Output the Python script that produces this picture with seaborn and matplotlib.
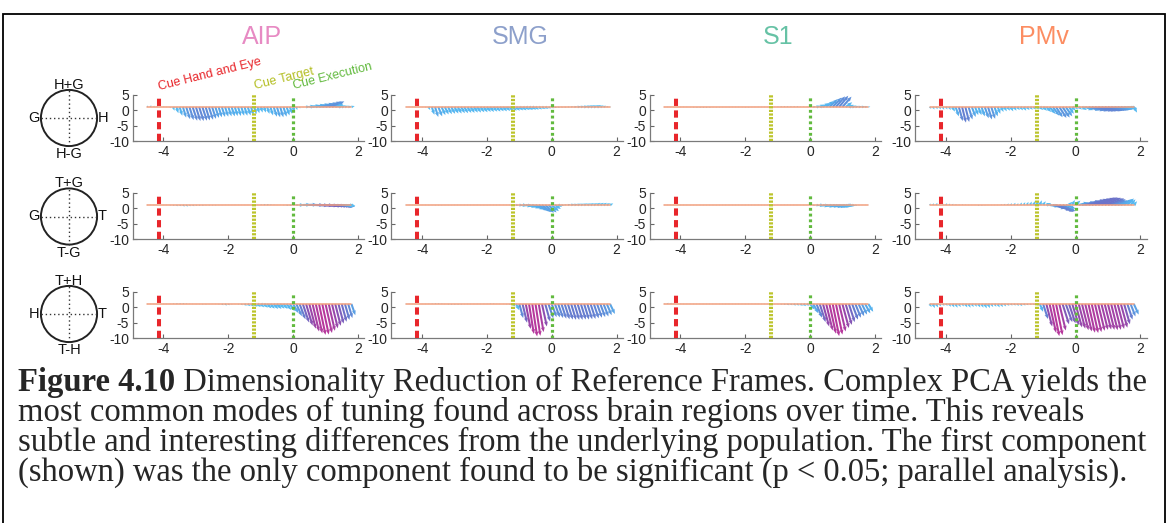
import matplotlib
matplotlib.use("Agg")
import matplotlib.pyplot as plt
from matplotlib.colors import LinearSegmentedColormap, Normalize
from matplotlib.patches import Circle, Rectangle
import numpy as np
import seaborn as sns

# ---------------------------------------------------------------- data
REGIONS = ["AIP", "SMG", "S1", "PMv"]
FRAMES = ["HG", "TG", "TH"]
# circle labels per frame row: top, bottom, left, right
FRAME_LABELS = [("H+G", "H-G", "G", "H"),
                ("T+G", "T-G", "G", "T"),
                ("T+H", "T-H", "H", "T")]

CUE_NAMES = ["Cue Hand and Eye", "Cue Target", "Cue Execution"]
CUE_TIMES = [-4.15, -1.2, 0.0]

X_TICKS = [-4, -2, 0, 2]
Y_TICKS = [5, 0, -5, -10]
BASELINE = 1.0

# sample times (s)
TIMES = [-4.5, -4.4, -4.3, -4.2, -4.1, -4.0, -3.9, -3.8, -3.7, -3.6,
         -3.5, -3.4, -3.3, -3.2, -3.1, -3.0, -2.9, -2.8, -2.7, -2.6,
         -2.5, -2.4, -2.3, -2.2, -2.1, -2.0, -1.9, -1.8, -1.7, -1.6,
         -1.5, -1.4, -1.3, -1.2, -1.1, -1.0, -0.9, -0.8, -0.7, -0.6,
         -0.5, -0.4, -0.3, -0.2, -0.1, 0.0, 0.1, 0.2, 0.3, 0.4,
         0.5, 0.6, 0.7, 0.8, 0.9, 1.0, 1.1, 1.2, 1.3, 1.4,
         1.5, 1.6, 1.7, 1.8]

# first complex component: horizontal (DX, s) and vertical (DY) parts
AIP_HG_DY = [0.5, 0.6, 0.4, 0.5, 0.3, 0.2, 0.0, -0.4, -1.2, -2.0,
             -2.8, -3.4, -3.9, -4.2, -4.4, -4.5, -4.5, -4.4, -4.3, -4.1,
             -3.8, -3.5, -3.3, -3.2, -3.1, -3.0, -3.0, -2.9, -2.9, -2.8,
             -2.8, -2.7, -2.6, -2.3, -2.0, -1.8, -1.8, -2.2, -2.7, -3.1,
             -3.3, -3.3, -3.1, -2.7, -2.2, -1.6, -1.0, -0.5, -0.2, 0.2,
             0.4, 0.6, 0.8, 1.0, 1.2, 1.4, 1.7, 1.8, 1.0, 0.6,
             0.5, 0.4, 0.3, 0.3]
AIP_HG_DX = [0.02, 0.02, 0.02, 0.02, 0.02, 0.02, 0.00, 0.02, 0.04, 0.06,
             0.08, 0.10, 0.12, 0.13, 0.14, 0.14, 0.14, 0.14, 0.13, 0.13,
             0.12, 0.11, 0.10, 0.10, 0.10, 0.10, 0.10, 0.09, 0.09, 0.09,
             0.09, 0.09, 0.08, 0.07, 0.06, 0.06, 0.06, 0.07, 0.08, 0.10,
             0.10, 0.10, 0.10, 0.09, 0.07, 0.05, 0.03, 0.02, 0.02, 0.12,
             0.18, 0.24, 0.28, 0.32, 0.35, 0.37, 0.38, 0.38, 0.25, 0.15,
             0.12, 0.10, 0.10, 0.10]

AIP_TG_DY = [0.0, 0.0, 0.0, 0.0, 0.0, 0.0, 0.0, -0.2, -0.3, -0.4,
             -0.4, -0.5, -0.5, -0.4, -0.4, -0.3, -0.3, -0.3, -0.2, -0.2,
             -0.2, -0.2, -0.1, -0.1, 0.0, 0.0, 0.0, 0.1, 0.0, 0.0,
             0.0, 0.0, 0.0, 0.0, 0.1, 0.2, 0.3, 0.3, 0.2, 0.1,
             0.0, 0.0, -0.1, -0.2, -0.2, -0.1, 0.0, 0.0, 0.1, 0.1,
             0.0, -0.1, -0.1, -0.2, -0.3, -0.3, -0.4, -0.4, -0.5, -0.5,
             -0.5, -0.4, -0.4, -0.3]
AIP_TG_DX = [0.0, 0.0, 0.0, 0.0, 0.0, 0.0, 0.0, 0.03, 0.04, 0.05,
             0.05, 0.06, 0.06, 0.05, 0.05, 0.04, 0.04, 0.04, 0.03, 0.03,
             0.03, 0.03, 0.02, 0.02, 0.02, 0.02, 0.02, 0.02, 0.02, 0.02,
             0.02, 0.02, 0.02, 0.02, 0.03, 0.04, 0.05, 0.05, 0.04, 0.03,
             0.02, 0.02, 0.03, 0.05, 0.06, 0.06, 0.08, 0.15, 0.25, 0.35,
             0.45, 0.50, 0.55, 0.60, 0.62, 0.62, 0.60, 0.58, 0.55, 0.50,
             0.40, 0.30, 0.20, 0.12]

AIP_TH_DY = [0.0, 0.0, 0.0, 0.0, 0.0, 0.0, 0.0, 0.1, 0.2, 0.3,
             0.3, 0.3, 0.2, 0.1, 0.0, -0.1, -0.1, -0.2, -0.2, -0.1,
             0.0, 0.0, -0.2, -0.4, -0.5, -0.4, -0.2, -0.1, -0.2, -0.4,
             -0.6, -0.7, -0.8, -0.9, -1.0, -1.1, -1.2, -1.4, -1.5, -1.6,
             -1.6, -1.5, -1.6, -1.9, -2.3, -2.9, -3.9, -4.9, -5.9, -6.9,
             -7.9, -8.8, -9.4, -9.9, -9.8, -9.3, -8.6, -7.8, -7.0, -6.3,
             -5.7, -5.1, -4.5, -3.6]
AIP_TH_DX = [0.0, 0.0, 0.0, 0.0, 0.0, 0.0, 0.0, 0.02, 0.03, 0.04,
             0.04, 0.04, 0.03, 0.02, 0.0, 0.02, 0.02, 0.03, 0.03, 0.02,
             0.0, 0.0, 0.03, 0.05, 0.06, 0.05, 0.03, 0.02, 0.03, 0.05,
             0.07, 0.08, 0.09, 0.10, 0.10, 0.11, 0.12, 0.13, 0.13, 0.14,
             0.14, 0.13, 0.13, 0.14, 0.15, 0.16, 0.17, 0.18, 0.19, 0.20,
             0.20, 0.20, 0.20, 0.20, 0.20, 0.20, 0.19, 0.18, 0.17, 0.16,
             0.15, 0.14, 0.13, 0.12]

SMG_HG_DY = [0.0, 0.0, 0.0, 0.0, 0.0, -0.1, -0.2, -1.0, -2.5, -3.2,
             -3.0, -2.6, -2.4, -2.3, -2.2, -2.1, -2.1, -2.0, -2.0, -1.9,
             -1.9, -1.8, -1.8, -1.7, -1.7, -1.6, -1.6, -1.5, -1.5, -1.4,
             -1.4, -1.3, -1.3, -1.2, -1.2, -1.1, -1.1, -1.0, -1.0, -0.9,
             -0.9, -0.8, -0.7, -0.6, -0.5, -0.4, -0.3, -0.2, -0.1, -0.1,
             0.0, 0.1, 0.1, 0.2, 0.3, 0.3, 0.4, 0.5, 0.5, 0.6,
             0.5, 0.4, 0.2, 0.0]
SMG_HG_DX = [0.0, 0.0, 0.0, 0.0, 0.0, 0.02, 0.03, 0.05, 0.08, 0.10,
             0.12, 0.12, 0.12, 0.12, 0.12, 0.12, 0.12, 0.12, 0.12, 0.12,
             0.12, 0.12, 0.12, 0.12, 0.12, 0.12, 0.12, 0.12, 0.12, 0.12,
             0.12, 0.12, 0.12, 0.12, 0.12, 0.12, 0.12, 0.12, 0.12, 0.12,
             0.10, 0.10, 0.10, 0.10, 0.08, 0.08, 0.06, 0.05, 0.05, 0.05,
             0.05, 0.06, 0.08, 0.10, 0.10, 0.12, 0.12, 0.12, 0.12, 0.12,
             0.10, 0.08, 0.05, 0.03]

SMG_TG_DY = [0.0, 0.0, 0.0, 0.0, 0.0, 0.0, 0.0, -0.1, -0.1, -0.2,
             -0.2, -0.2, -0.1, -0.1, -0.1, 0.0, 0.0, 0.0, 0.0, 0.0,
             0.0, 0.0, 0.0, -0.1, -0.1, -0.1, 0.0, 0.0, 0.0, 0.0,
             0.0, 0.0, 0.0, 0.0, -0.1, -0.2, -0.3, -0.5, -0.8, -1.1,
             -1.5, -1.9, -2.3, -2.5, -2.4, -2.0, -1.3, -0.6, -0.2, 0.1,
             0.2, 0.3, 0.3, 0.4, 0.4, 0.5, 0.5, 0.6, 0.6, 0.7,
             0.7, 0.7, 0.6, 0.5]
SMG_TG_DX = [0.0, 0.0, 0.0, 0.0, 0.0, 0.0, 0.0, 0.02, 0.02, 0.02,
             0.02, 0.02, 0.02, 0.02, 0.02, 0.0, 0.0, 0.0, 0.0, 0.0,
             0.0, 0.0, 0.0, 0.02, 0.02, 0.02, 0.0, 0.0, 0.0, 0.0,
             0.02, 0.02, 0.03, 0.05, 0.08, 0.12, 0.15, 0.20, 0.22, 0.25,
             0.27, 0.28, 0.28, 0.27, 0.25, 0.22, 0.18, 0.12, 0.08, 0.06,
             0.08, 0.10, 0.10, 0.10, 0.10, 0.10, 0.10, 0.10, 0.10, 0.10,
             0.10, 0.10, 0.10, 0.10]

SMG_TH_DY = [0.0, 0.0, 0.0, 0.0, 0.0, 0.0, 0.0, 0.1, 0.2, 0.3,
             0.3, 0.2, 0.0, -0.2, -0.3, -0.3, -0.3, -0.2, -0.1, 0.0,
             0.0, 0.0, 0.0, 0.0, 0.1, 0.1, 0.2, 0.2, 0.1, 0.0,
             0.0, -0.1, -0.3, -0.8, -2.0, -4.5, -6.0, -8.0, -9.6, -10.4,
             -10.2, -9.0, -7.2, -5.6, -4.6, -4.2, -4.3, -4.5, -4.7, -4.9,
             -5.0, -5.1, -5.1, -5.1, -5.0, -5.0, -4.9, -4.8, -4.6, -4.4,
             -4.2, -4.0, -3.6, -3.2]
SMG_TH_DX = [0.0, 0.0, 0.0, 0.0, 0.0, 0.0, 0.0, 0.02, 0.03, 0.03,
             0.03, 0.03, 0.0, 0.03, 0.03, 0.03, 0.03, 0.03, 0.02, 0.0,
             0.0, 0.0, 0.0, 0.0, 0.02, 0.02, 0.03, 0.03, 0.02, 0.0,
             0.02, 0.03, 0.05, 0.08, 0.10, 0.12, 0.14, 0.15, 0.15, 0.15,
             0.15, 0.15, 0.15, 0.15, 0.15, 0.15, 0.15, 0.15, 0.15, 0.15,
             0.15, 0.15, 0.15, 0.15, 0.15, 0.15, 0.15, 0.15, 0.15, 0.15,
             0.15, 0.15, 0.15, 0.15]

S1_HG_DY = [0.0, 0.0, 0.0, 0.0, 0.0, 0.0, 0.0, 0.0, -0.1, -0.2,
            -0.3, -0.3, -0.3, -0.3, -0.3, -0.2, -0.2, -0.2, -0.1, -0.1,
            -0.1, 0.0, 0.0, 0.0, -0.1, -0.2, -0.2, -0.1, 0.0, 0.0,
            0.0, 0.0, 0.0, 0.0, 0.1, 0.2, 0.3, 0.3, 0.3, 0.3,
            0.3, 0.3, 0.2, 0.2, 0.1, 0.1, 0.2, 0.4, 0.8, 1.3,
            1.9, 2.5, 3.0, 3.4, 3.6, 3.3, 1.5, 0.7, 0.4, 0.3,
            0.2, 0.2, 0.1, 0.1]
S1_HG_DX = [0.0, 0.0, 0.0, 0.0, 0.0, 0.0, 0.0, 0.0, 0.02, 0.03,
            0.03, 0.03, 0.03, 0.03, 0.03, 0.02, 0.02, 0.02, 0.02, 0.02,
            0.02, 0.0, 0.0, 0.0, 0.02, 0.02, 0.02, 0.02, 0.0, 0.0,
            0.0, 0.0, 0.0, 0.0, 0.02, 0.03, 0.03, 0.03, 0.03, 0.03,
            0.03, 0.03, 0.02, 0.02, 0.03, 0.05, 0.08, 0.12, 0.16, 0.20,
            0.23, 0.25, 0.27, 0.28, 0.28, 0.28, 0.20, 0.15, 0.12, 0.10,
            0.10, 0.10, 0.08, 0.06]

S1_TG_DY = [0.0, 0.0, 0.0, 0.0, 0.0, 0.0, 0.0, 0.0, -0.1, -0.1,
            -0.1, -0.1, -0.1, -0.1, -0.1, -0.1, -0.1, -0.1, 0.0, 0.0,
            0.0, 0.0, 0.0, 0.0, 0.0, 0.0, 0.0, 0.0, 0.0, 0.0,
            0.0, 0.0, 0.0, 0.0, 0.0, 0.1, 0.1, 0.1, 0.1, 0.0,
            0.0, 0.0, -0.1, -0.1, -0.1, -0.1, -0.2, -0.3, -0.4, -0.5,
            -0.6, -0.6, -0.7, -0.7, -0.6, -0.6, -0.5, -0.4, -0.3, -0.2,
            -0.1, 0.0, 0.0, 0.0]
S1_TG_DX = [0.0, 0.0, 0.0, 0.0, 0.0, 0.0, 0.0, 0.0, 0.02, 0.02,
            0.02, 0.02, 0.02, 0.02, 0.02, 0.02, 0.02, 0.02, 0.0, 0.0,
            0.0, 0.0, 0.0, 0.0, 0.0, 0.0, 0.0, 0.0, 0.0, 0.0,
            0.0, 0.0, 0.0, 0.0, 0.0, 0.02, 0.02, 0.02, 0.02, 0.0,
            0.0, 0.0, 0.02, 0.02, 0.02, 0.03, 0.06, 0.10, 0.15, 0.20,
            0.25, 0.28, 0.30, 0.30, 0.28, 0.25, 0.20, 0.15, 0.10, 0.06,
            0.03, 0.02, 0.02, 0.02]

S1_TH_DY = [0.2, 0.4, 0.4, 0.3, 0.2, 0.1, 0.0, 0.0, 0.0, 0.0,
            0.0, 0.0, 0.0, 0.0, 0.0, 0.0, 0.0, 0.0, 0.0, 0.0,
            0.0, 0.0, 0.0, 0.0, 0.0, 0.0, 0.0, 0.1, 0.1, 0.0,
            0.0, 0.0, 0.0, 0.0, 0.0, -0.1, -0.2, -0.3, -0.4, -0.4,
            -0.5, -0.5, -0.6, -0.7, -0.6, -1.8, -3.0, -4.4, -5.8, -7.2,
            -8.5, -9.5, -10.3, -9.8, -8.8, -7.7, -6.7, -5.8, -5.0, -4.4,
            -3.9, -3.4, -3.0, -2.5]
S1_TH_DX = [0.02, 0.03, 0.03, 0.03, 0.02, 0.02, 0.0, 0.0, 0.0, 0.0,
            0.0, 0.0, 0.0, 0.0, 0.0, 0.0, 0.0, 0.0, 0.0, 0.0,
            0.0, 0.0, 0.0, 0.0, 0.0, 0.0, 0.0, 0.02, 0.02, 0.0,
            0.0, 0.0, 0.0, 0.0, 0.0, 0.03, 0.04, 0.05, 0.06, 0.06,
            0.07, 0.07, 0.08, 0.08, 0.08, 0.15, 0.16, 0.17, 0.18, 0.19,
            0.20, 0.20, 0.20, 0.20, 0.20, 0.20, 0.19, 0.18, 0.18, 0.17,
            0.17, 0.16, 0.16, 0.15]

PMV_HG_DY = [-0.6, -0.8, -0.7, -0.8, -0.9, -0.8, -1.0, -1.5, -3.0, -4.5,
             -5.0, -4.8, -4.0, -3.2, -2.6, -2.6, -3.0, -3.6, -4.0, -3.8,
             -3.0, -2.2, -1.6, -1.4, -1.2, -1.4, -1.2, -1.0, -1.1, -1.2,
             -1.0, -0.9, -0.8, -0.8, -1.0, -1.2, -1.6, -2.2, -2.8, -3.3,
             -3.5, -3.4, -3.0, -2.2, -1.2, -0.8, -0.8, -1.0, -1.0, -1.1,
             -1.2, -1.3, -1.3, -1.3, -1.2, -1.2, -1.1, -1.0, -0.9, -0.8,
             -0.6, -0.5, -0.5, -1.8]
PMV_HG_DX = [0.05, 0.05, 0.05, 0.05, 0.05, 0.05, 0.05, 0.08, 0.10, 0.12,
             0.12, 0.12, 0.12, 0.12, 0.10, 0.10, 0.10, 0.12, 0.12, 0.12,
             0.10, 0.08, 0.08, 0.08, 0.08, 0.08, 0.08, 0.08, 0.08, 0.08,
             0.08, 0.08, 0.08, 0.08, 0.10, 0.12, 0.15, 0.18, 0.20, 0.20,
             0.22, 0.22, 0.20, 0.15, 0.10, 0.08, 0.10, 0.15, 0.25, 0.35,
             0.40, 0.42, 0.45, 0.45, 0.45, 0.45, 0.42, 0.40, 0.38, 0.35,
             0.30, 0.25, 0.20, 0.10]

PMV_TG_DY = [0.5, 0.6, 0.7, 0.5, 0.4, 0.6, 0.5, 0.4, 0.3, 0.2,
             0.3, 0.2, 0.0, 0.0, 0.0, -0.3, -0.3, -0.2, 0.0, 0.0,
             0.0, 0.0, 0.3, 0.4, 0.5, 0.6, 0.7, 0.6, 0.8, 0.9,
             1.0, 1.1, 1.2, 1.4, 1.5, 1.2, 0.6, -0.5, -1.2, -1.8,
             -2.2, -2.0, -1.2, 1.0, 1.6, 1.4, 0.8, 1.0, 1.4, 1.7,
             1.9, 2.1, 2.3, 2.4, 2.3, 2.1, 1.8, 1.4, 1.2, 1.5,
             1.9, 2.1, 1.8, 1.2]
PMV_TG_DX = [0.03, 0.03, 0.04, 0.03, 0.03, 0.04, 0.03, 0.03, 0.03, 0.02,
             0.02, 0.02, 0.0, 0.0, 0.0, 0.03, 0.03, 0.02, 0.0, 0.0,
             0.0, 0.0, 0.03, 0.03, 0.04, 0.04, 0.05, 0.04, 0.05, 0.05,
             0.05, 0.05, 0.05, 0.06, 0.06, 0.08, 0.15, 0.30, 0.40, 0.45,
             0.45, 0.40, 0.30, 0.10, 0.08, 0.15, 0.30, 0.40, 0.45, 0.50,
             0.50, 0.50, 0.50, 0.50, 0.50, 0.50, 0.45, 0.40, 0.35, 0.30,
             0.25, 0.20, 0.15, 0.10]

PMV_TH_DY = [-1.0, -1.3, -1.1, -0.8, -0.6, -0.6, -0.9, -1.1, -1.2, -1.0,
             -0.8, -1.1, -1.2, -1.0, -0.9, -1.1, -1.2, -1.4, -1.3, -1.0,
             -0.9, -1.1, -1.0, -0.8, -0.6, -0.5, -0.5, -0.6, -0.7, -0.5,
             -0.4, -0.3, -0.3, -0.5, -2.5, -4.8, -7.2, -9.2, -10.3, -10.0,
             -8.5, -6.5, -5.8, -6.2, -6.8, -7.5, -7.9, -8.4, -8.8, -9.2,
             -9.3, -9.0, -8.6, -8.3, -8.2, -8.3, -8.4, -8.3, -8.0, -7.6,
             -6.5, -5.0, -4.0, -3.4]
PMV_TH_DX = [0.06, 0.06, 0.06, 0.06, 0.06, 0.06, 0.06, 0.06, 0.06, 0.06,
             0.06, 0.06, 0.06, 0.06, 0.06, 0.06, 0.06, 0.06, 0.06, 0.06,
             0.06, 0.06, 0.06, 0.06, 0.06, 0.06, 0.06, 0.06, 0.06, 0.06,
             0.05, 0.05, 0.05, 0.06, 0.10, 0.15, 0.18, 0.20, 0.20, 0.20,
             0.20, 0.20, 0.20, 0.20, 0.20, 0.20, 0.20, 0.20, 0.20, 0.20,
             0.20, 0.20, 0.20, 0.20, 0.20, 0.20, 0.20, 0.20, 0.20, 0.20,
             0.18, 0.16, 0.15, 0.15]

COMPONENTS = {
    ("AIP", "HG"): (AIP_HG_DX, AIP_HG_DY), ("AIP", "TG"): (AIP_TG_DX, AIP_TG_DY),
    ("AIP", "TH"): (AIP_TH_DX, AIP_TH_DY),
    ("SMG", "HG"): (SMG_HG_DX, SMG_HG_DY), ("SMG", "TG"): (SMG_TG_DX, SMG_TG_DY),
    ("SMG", "TH"): (SMG_TH_DX, SMG_TH_DY),
    ("S1", "HG"): (S1_HG_DX, S1_HG_DY), ("S1", "TG"): (S1_TG_DX, S1_TG_DY),
    ("S1", "TH"): (S1_TH_DX, S1_TH_DY),
    ("PMv", "HG"): (PMV_HG_DX, PMV_HG_DY), ("PMv", "TG"): (PMV_TG_DX, PMV_TG_DY),
    ("PMv", "TH"): (PMV_TH_DX, PMV_TH_DY),
}

CAPTION_BOLD = "Figure 4.10"
CAPTION_LINES = [
    " Dimensionality Reduction of Reference Frames. Complex PCA yields the",
    "most common modes of tuning found across brain regions over time. This reveals",
    "subtle and interesting differences from the underlying population. The first component",
    "(shown) was the only component found to be significant (p < 0.05; parallel analysis).",
]

# ---------------------------------------------------------------- style
sns.set_theme(style="white")
plt.rcParams["font.family"] = ["Liberation Sans", "DejaVu Sans"]

W, H = 1168, 523
fig = plt.figure(figsize=(W / 100, H / 100), dpi=100)
fig.patch.set_facecolor("white")

region_colors = dict(zip(REGIONS, [sns.color_palette("Set2")[i] for i in (3, 2, 0, 1)]))
cue_colors = ["#E8262B", "#BCC42C", "#62BA3E"]
cue_text_colors = ["#E8262B", "#B3BE22", "#62BA3E"]
cue_styles = [(0, (1.8, 1.1)), (0, (0.55, 0.35)), (0, (0.9, 0.9))]
cue_widths = [2.9, 2.9, 2.3]

cmap = LinearSegmentedColormap.from_list(
    "feather", [(0.0, "#5CCBF8"), (0.3, "#55B2EE"), (0.55, "#6877CC"),
                (0.75, "#904CAE"), (1.0, "#B7389C")])
norm = Normalize(0, 10)
X_RATIO = 10.4  # seconds -> amplitude units on screen

COL_LEFT = [132.7, 391.3, 649.6, 915.1]
AX_W = 231.7
ROW_TOP = [94.5, 192.5, 291.5]
AX_H = 46.8
XLIM = (-4.95, 2.2)
YLIM = (-10, 5)


def px_axes(left, top, w, h):
    return fig.add_axes([left / W, 1 - (top + h) / H, w / W, h / H])


times = np.array(TIMES)
for r, frame in enumerate(FRAMES):
    for c, region in enumerate(REGIONS):
        ax = px_axes(COL_LEFT[c], ROW_TOP[r], AX_W, AX_H)
        dx, dy = (np.array(v) for v in COMPONENTS[(region, frame)])
        mag = np.hypot(dx * X_RATIO, dy)
        ax.quiver(times, np.full_like(times, BASELINE), dx, dy, mag,
                  cmap=cmap, norm=norm, angles="xy", scale_units="xy", scale=1,
                  width=0.0088, headwidth=2.0, headlength=2.4, headaxislength=2.1,
                  minlength=0.3, pivot="tail", zorder=2)
        sns.lineplot(x=[TIMES[0], TIMES[-1]], y=[BASELINE, BASELINE], ax=ax,
                     color="#F2A07F", lw=1.1, zorder=3)
        for ct, col, ls, lw in zip(CUE_TIMES, cue_colors, cue_styles, cue_widths):
            ax.plot([ct, ct], [YLIM[0], YLIM[1]], color=col, lw=lw, ls=ls,
                    solid_capstyle="butt", dash_capstyle="butt", zorder=4)
        ax.set_xlim(*XLIM)
        ax.set_ylim(*YLIM)
        ax.set_xticks(X_TICKS)
        ax.set_yticks(Y_TICKS)
        ax.set_xticklabels([str(v) for v in X_TICKS])
        ax.set_yticklabels([str(v) for v in Y_TICKS])
        ax.tick_params(direction="in", length=3, width=0.8, color="#666666",
                       labelsize=10, labelcolor="#262626", pad=2.5,
                       left=True, bottom=True)
        for s in ("top", "right"):
            ax.spines[s].set_visible(False)
        for s in ("left", "bottom"):
            ax.spines[s].set_color("#7A7A7A")
            ax.spines[s].set_linewidth(0.9)
        ax.set_facecolor("none")
        ax.set_xlabel("")
        ax.set_ylabel("")
        if r == 0 and c == 0:
            for ct, name, col, yy in zip(CUE_TIMES, CUE_NAMES, cue_text_colors,
                                         [6.5, 6.7, 6.7]):
                ax.text(ct + 0.03, yy, name, color=col, fontsize=9,
                        rotation=14, rotation_mode="anchor", ha="left",
                        va="baseline", clip_on=False)

# reference-frame circles
ROW_CY = [118, 216.5, 314]
for r, (top, bot, lft, rgt) in enumerate(FRAME_LABELS):
    cy = ROW_CY[r]
    cax = px_axes(69 - 55, cy - 55, 110, 110)
    cax.set_xlim(-1.96, 1.96)
    cax.set_ylim(-1.96, 1.96)
    cax.set_aspect("equal")
    cax.axis("off")
    cax.add_patch(Circle((0, 0), 1.0, fill=False, ec="#222222", lw=1.4))
    cax.plot([-1, 1], [0, 0], ls=(0, (1, 2)), color="#333333", lw=1.0)
    cax.plot([0, 0], [-1, 1], ls=(0, (1, 2)), color="#333333", lw=1.0)
    kw = dict(fontsize=10.5, color="#111111")
    cax.text(0, 1.04, top, ha="center", va="baseline", **kw)
    cax.text(0, -1.04, bot, ha="center", va="top", **kw)
    cax.text(-1.06, 0, lft, ha="right", va="center", **kw)
    cax.text(1.02, 0, rgt, ha="left", va="center", **kw)

# column titles
for c, region in enumerate(REGIONS):
    cx = COL_LEFT[c] + AX_W / 2 + 13
    fig.text(cx / W, 1 - 37 / H, region, ha="center", va="center",
             fontsize=18, color=region_colors[region])

# caption
serif = ["Liberation Serif", "DejaVu Serif"]
cap_size = 23.5
baselines = [391, 421, 451, 481]
x0 = 18 / W
tb = fig.text(x0, 1 - baselines[0] / H, CAPTION_BOLD, family=serif,
              weight="bold", fontsize=cap_size, va="baseline", ha="left")
fig.canvas.draw()
bb = tb.get_window_extent(fig.canvas.get_renderer())
fig.text(bb.x1 / W, 1 - baselines[0] / H, CAPTION_LINES[0], family=serif,
         fontsize=cap_size, va="baseline", ha="left")
for line, yb in zip(CAPTION_LINES[1:], baselines[1:]):
    fig.text(x0, 1 - yb / H, line, family=serif, fontsize=cap_size,
             va="baseline", ha="left")

# outer frame
fig.patches.append(Rectangle((3 / W, -0.02), 1162 / W, 1.02 - 14 / H,
                             transform=fig.transFigure, fill=False,
                             ec="black", lw=1.3, clip_on=False))

fig.savefig("out.png", dpi=100, facecolor="white")
